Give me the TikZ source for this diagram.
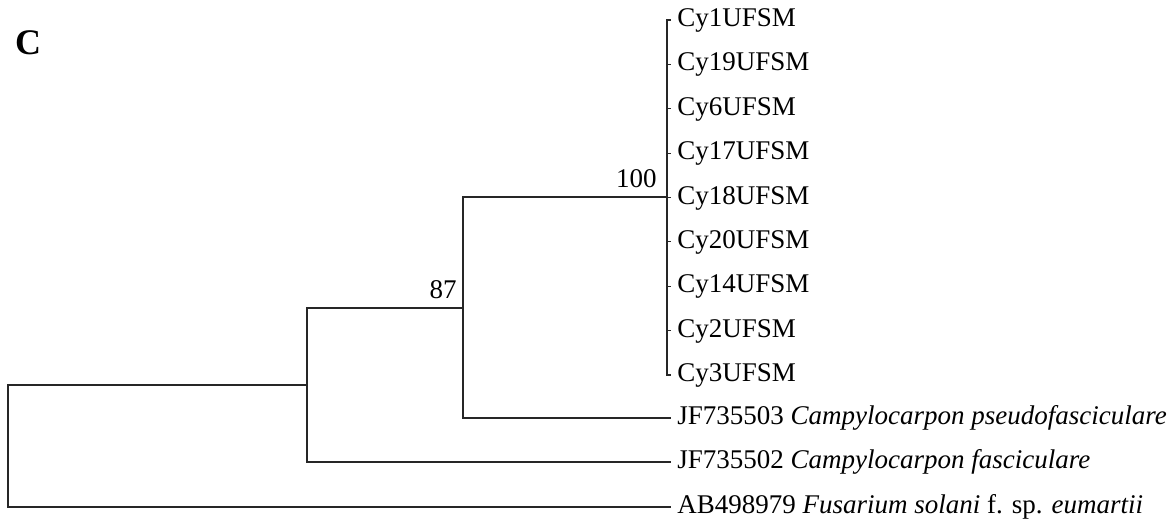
\documentclass[tikz,border=0pt]{standalone}
\usepackage{fontspec}
\setmainfont{Liberation Serif}
\usetikzlibrary{calc}

\begin{document}
\begin{tikzpicture}[x=0.5pt,y=-0.5pt,
    taxon/.style={anchor=west,inner xsep=3.5pt,inner ysep=0pt,text height=0.66em,text depth=0pt,font=\fontsize{13.5}{15}\selectfont},
    boot/.style={anchor=south east,inner sep=0pt,font=\fontsize{13.5}{15}\selectfont},
    branch/.style={line width=0.6pt,black!85,line cap=rect}]
    \useasboundingbox (0,0) rectangle (1172,523);

    % internal nodes of the tree
    \coordinate (A) at (8,446);
    \coordinate (B) at (307,385);
    \coordinate (C) at (463,308);
    \coordinate (D) at (667,197);

    % panel letter
    \node[font=\bfseries\fontsize{18}{20}\selectfont] (panel) at (28,43) {C};

    % isolates
    \foreach \n [count=\i from 0] in {1,19,6,17,18,20,14,2,3}
        \node[taxon] (cy\n) at (670,{20+44.375*\i}) {Cy\n UFSM};

    % reference sequences
    \node[taxon] (jf03) at (670,418) {JF735503 \textit{Campylocarpon pseudofasciculare}};
    \node[taxon] (jf02) at (670,462) {JF735502 \textit{Campylocarpon fasciculare}};
    \node[taxon] (ab) at (670,507) {AB498979 \textit{Fusarium solani} f. sp. \textit{eumartii}};

    % branches
    \draw[branch] (B) -| (A) |- (ab.west);
    \draw[branch] (C) -| (B) |- (jf02.west);
    \draw[branch] (D) -| (C) |- (jf03.west);
    \draw[branch] (cy1.west) -| (D) |- (cy3.west);
    \foreach \t in {cy19,cy6,cy17,cy18,cy20,cy14,cy2}
        \draw[branch] (\t.west) -- (\t.west -| D);

    % bootstrap values
    \node[boot] (b100) at (657,188) {100};
    \node[boot] (b87) at (457,299) {87};

\end{tikzpicture}
\end{document}
